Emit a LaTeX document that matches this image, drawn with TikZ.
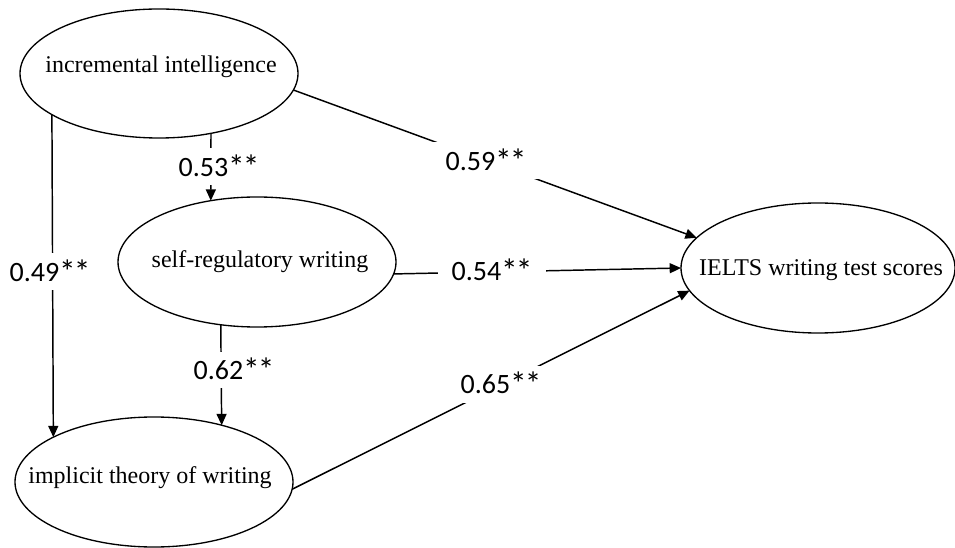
\documentclass[tikz,border=0pt]{standalone}
\usepackage{fontspec}
\setmainfont{Liberation Serif}
\newfontfamily\numfont{Carlito}
\usetikzlibrary{arrows.meta,shapes.geometric}
\newcommand{\stars}{\raisebox{-1.5pt}{\fontsize{25}{25}\selectfont *\kern-1.5pt*}}
\begin{document}
\begin{tikzpicture}[x=0.75pt,y=-0.75pt,
  latent/.style={ellipse,draw,line width=1pt,minimum width=208.5pt,minimum height=97.5pt,inner sep=0pt,outer sep=0pt},
  txt/.style={font=\fontsize{18}{21}\selectfont,inner sep=0pt},
  coef/.style={font=\numfont\fontsize{21}{24}\selectfont,fill=white,inner xsep=10pt,inner ysep=5pt},
  link/.style={line width=1.1pt,-{Triangle[length=8.5pt,width=7.5pt]}}
]
\useasboundingbox (0,0) rectangle (955,548);
% latent variables
\node[latent,minimum height=96.75pt] (inc) at (159,73.5) {};
\node[latent] (sr) at (257,262) {};
\node[latent] (imp) at (154,482) {};
\node[latent,minimum width=205.5pt] (ielts) at (818,268) {};
% texts
\node[txt] (incT) at (161,67) {incremental intelligence};
\node[txt] (srT) at (260,262) {self-regulatory writing};
\node[txt] (impT) at (150,478) {implicit theory of writing};
\node[txt] (ieltsT) at (821,270) {IELTS writing test scores};
% paths
\draw[link] (inc.-49.6) -- (sr.127.5);
\draw[link] (inc.201.1) -- (imp.156.6);
\draw[link] (inc.-7) -- (ielts.166.9);
\draw[link] (sr.-5) -- (ielts.180);
\draw[link] (sr.240.2) -- (imp.40.3);
\draw[link] (imp.-3) -- (ielts.190.2);
% coefficients
\node[coef] (c53) at (219,167) {0.53\stars};
\node[coef] (c49) at (50,272) {0.49\stars};
\node[coef] (c59) at (486,161) {0.59\stars};
\node[coef] (c54) at (492,271) {0.54\stars};
\node[coef] (c62) at (234,370) {0.62\stars};
\node[coef] (c65) at (501,384) {0.65\stars};
\end{tikzpicture}
\end{document}
